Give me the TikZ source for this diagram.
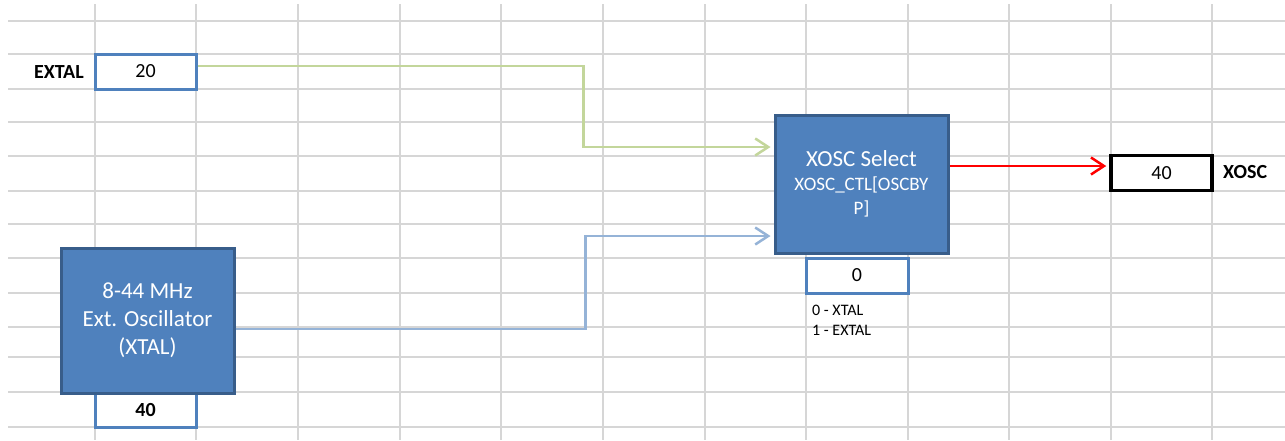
\documentclass[tikz,border=0pt]{standalone}
\usepackage{fontspec}
\setmainfont{Carlito}
\usetikzlibrary{arrows.meta}
\definecolor{gridgray}{HTML}{D6D6D6}
\definecolor{cellblue}{HTML}{4F81BD}
\definecolor{blockfill}{HTML}{4F81BD}
\definecolor{blockedge}{HTML}{385D8A}
\definecolor{olivewire}{HTML}{C3D69B}
\definecolor{steelwire}{HTML}{95B3D7}
\tikzset{
  gridline/.style={draw=gridgray, line width=1.2pt},
  cell/.style={draw=cellblue, line width=3pt, fill=white, minimum width=101pt,
    minimum height=35pt, inner sep=0pt, font=\fontsize{20}{24}\selectfont},
  outcell/.style={cell, draw=black, line width=3.5pt},
  block/.style={draw=blockedge, line width=3pt, fill=blockfill, text=white,
    align=center, inner sep=0pt},
  tag/.style={font=\bfseries\fontsize{20}{24}\selectfont, inner sep=0pt},
  wire/.style={line width=2.5pt, -{Straight Barb[length=13pt,width=17pt]},
    shorten >=3pt},
}
\newcommand{\bighead}{\fontsize{23}{25}\selectfont}
\newcommand{\regname}{\fontsize{19}{24}\selectfont}
\begin{document}
\begin{tikzpicture}[x=1pt,y=-1pt]
\useasboundingbox[fill=white] (0,0) rectangle (1285,440);

% spreadsheet grid
\foreach \gx in {95,196,298,400,501,603,705,806,908,1009,1111,1212}
  \draw[gridline] (\gx,4) -- (\gx,440);
\foreach \gy in {21,54,89,122,156,191,224,258,293,327,357,392,427}
  \draw[gridline] (8,\gy) -- (1285,\gy);

% value cells
\node[cell] (extal) at (145.5,71.5) {20};
\node[tag, anchor=east] (extallbl) at (84,72) {EXTAL};
\node[cell, font=\bfseries\fontsize{20}{24}\selectfont] (xtalval) at (145.5,410) {40};
\node[cell, minimum width=102pt] (selval) at (857,275.5) {0};
\node[outcell] (out) at (1161.5,173) {40};
\node[tag, anchor=west] (outlbl) at (1223,172) {XOSC};

% function blocks
\node[block, minimum width=173pt, minimum height=145pt,
  font=\fontsize{23}{28}\selectfont] (osc) at (147.5,320.5)
  {8-44 MHz\\Ext. Oscillator\\(XTAL)};
\node[block, minimum width=173pt, minimum height=138pt, font=\regname]
  (sel) at (861.5,184)
  {\bighead XOSC Select\\[0pt]
   \regname XOSC\_CTL[OSCBY\\
   \regname P]};

% select legend
\node[anchor=west, align=left, inner sep=0pt,
  font=\fontsize{16}{20}\selectfont] (legend) at (812,320)
  {0 - XTAL\\1 - EXTAL};

% signal paths
\draw[wire, draw=olivewire] ([yshift=5.5pt]extal.east)
  -| ([xshift=-190pt,yshift=37pt]sel.west) -- ([yshift=37pt]sel.west);
\draw[wire, draw=steelwire] ([yshift=-8.5pt]osc.east)
  -| ([xshift=-188pt,yshift=-52pt]sel.west) -- ([yshift=-52pt]sel.west);
\draw[wire, draw=red] ([yshift=18pt]sel.east) -- ([yshift=7pt]out.west);
\end{tikzpicture}
\end{document}
